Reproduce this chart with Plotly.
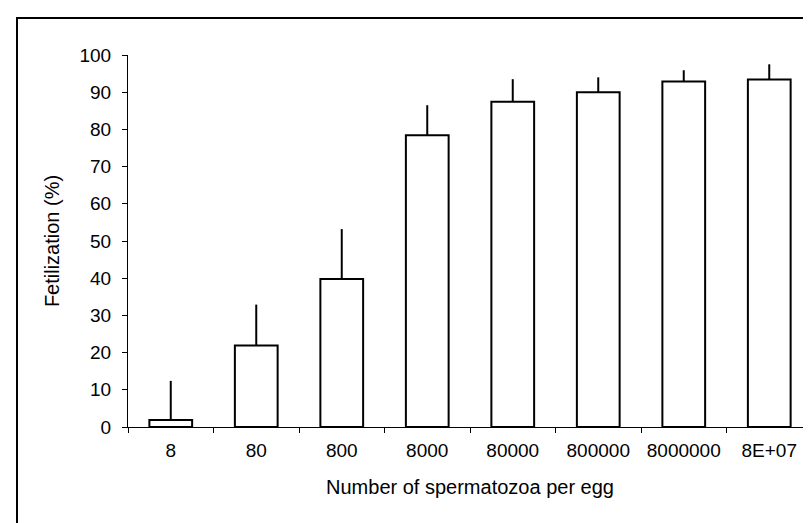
import plotly.graph_objects as go

categories = ["8", "80", "800", "8000", "80000", "800000", "8000000", "8E+07"]
fertilization = [1.9, 21.9, 39.8, 78.4, 87.4, 90.0, 92.9, 93.4]
error_plus = [10.5, 11.0, 13.4, 8.1, 6.1, 4.0, 3.0, 4.1]
y_ticks = [0, 10, 20, 30, 40, 50, 60, 70, 80, 90, 100]

FONT = "Liberation Sans, Arial, sans-serif"

fig = go.Figure(
    go.Bar(
        x=categories,
        y=fertilization,
        marker=dict(color="white", line=dict(color="black", width=2)),
        error_y=dict(type="data", symmetric=False, array=error_plus,
                     arrayminus=[0] * len(error_plus),
                     color="black", thickness=2, width=0),
    )
)

fig.update_layout(
    width=811, height=523,
    margin=dict(l=120, r=7, t=47, b=104),
    paper_bgcolor="white", plot_bgcolor="white",
    bargap=0.5,
    showlegend=False,
    font=dict(family=FONT, size=19, color="black"),
    shapes=[dict(type="rect", xref="paper", yref="paper",
                 x0=(9 - 120) / 684, x1=(815 - 120) / 684,
                 y0=(419 - 530) / 372, y1=(419 - 10) / 372,
                 line=dict(color="black", width=2), fillcolor="rgba(0,0,0,0)",
                 layer="below")],
)

fig.update_xaxes(
    type="category",
    showline=True, linecolor="black", linewidth=1,
    ticks="outside", ticklen=5, tickcolor="black", tickson="boundaries",
    ticklabelstandoff=6,
    showgrid=False, zeroline=False,
    title=dict(text="Number of spermatozoa per egg", standoff=20,
               font=dict(size=20)),
    tickfont=dict(size=19),
)
fig.update_yaxes(
    range=[0, 100], tickvals=y_ticks,
    showline=True, linecolor="black", linewidth=1,
    ticks="outside", ticklen=5, tickcolor="black",
    ticklabelstandoff=7,
    showgrid=False, zeroline=False,
    title=dict(text="Fetilization (%)", standoff=14, font=dict(size=20)),
    tickfont=dict(size=19),
)

fig.write_html("out.html")
